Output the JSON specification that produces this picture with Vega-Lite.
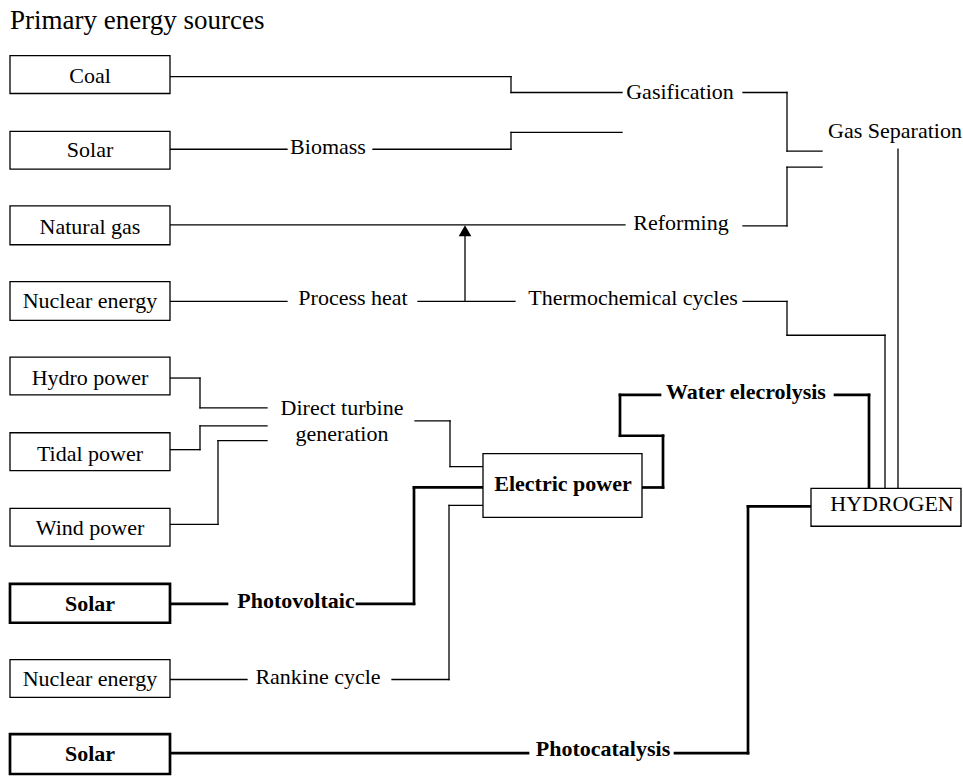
{
  "$schema": "https://vega.github.io/schema/vega-lite/v6.json",
  "width": 963,
  "height": 776,
  "autosize": {"type": "fit", "contains": "padding"},
  "padding": 0,
  "background": "white",
  "config": {"view": {"stroke": null}, "text": {"font": "'Liberation Serif', 'Times New Roman', Times, 'DejaVu Serif', serif"}},
  "datasets": {
    "boxes": [
      {"name": "Coal", "x": 10, "x2": 170, "y": 56, "y2": 94, "style": "thin"},
      {"name": "Solar", "x": 10, "x2": 170, "y": 132, "y2": 170, "style": "thin"},
      {"name": "Natural gas", "x": 10, "x2": 170, "y": 207, "y2": 246, "style": "thin"},
      {"name": "Nuclear energy", "x": 10, "x2": 170, "y": 283, "y2": 322, "style": "thin"},
      {"name": "Hydro power", "x": 10, "x2": 170, "y": 359, "y2": 397, "style": "thin"},
      {"name": "Tidal power", "x": 10, "x2": 170, "y": 435, "y2": 473, "style": "thin"},
      {"name": "Wind power", "x": 10, "x2": 170, "y": 511, "y2": 549, "style": "thin"},
      {"name": "Solar (PV)", "x": 10, "x2": 170, "y": 587, "y2": 626, "style": "thick"},
      {"name": "Nuclear energy (Rankine)", "x": 10, "x2": 170, "y": 663, "y2": 701, "style": "thin"},
      {"name": "Solar (photocatalysis)", "x": 10, "x2": 170, "y": 738, "y2": 778, "style": "thick"},
      {"name": "Electric power", "x": 483, "x2": 642, "y": 456, "y2": 520, "style": "thin"},
      {"name": "HYDROGEN", "x": 811, "x2": 961, "y": 491, "y2": 529, "style": "thin"}
    ],
    "links": [
      {"x": 170, "y": 77, "x2": 511, "y2": 77, "style": "thin"},
      {"x": 511, "y": 77, "x2": 511, "y2": 93, "style": "thin"},
      {"x": 511, "y": 93, "x2": 622, "y2": 93, "style": "thin"},
      {"x": 743, "y": 93, "x2": 787, "y2": 93, "style": "thin"},
      {"x": 787, "y": 93, "x2": 787, "y2": 152, "style": "thin"},
      {"x": 787, "y": 152, "x2": 822, "y2": 152, "style": "thin"},
      {"x": 170, "y": 150, "x2": 287, "y2": 150, "style": "thin"},
      {"x": 373, "y": 150, "x2": 511, "y2": 150, "style": "thin"},
      {"x": 511, "y": 150, "x2": 511, "y2": 133, "style": "thin"},
      {"x": 511, "y": 133, "x2": 622, "y2": 133, "style": "thin"},
      {"x": 170, "y": 226, "x2": 625, "y2": 226, "style": "thin"},
      {"x": 743, "y": 227, "x2": 787, "y2": 227, "style": "thin"},
      {"x": 787, "y": 227, "x2": 787, "y2": 168, "style": "thin"},
      {"x": 787, "y": 168, "x2": 822, "y2": 168, "style": "thin"},
      {"x": 898, "y": 150, "x2": 898, "y2": 491, "style": "thin"},
      {"x": 170, "y": 303, "x2": 287, "y2": 303, "style": "thin"},
      {"x": 418, "y": 303, "x2": 515, "y2": 303, "style": "thin"},
      {"x": 465, "y": 303, "x2": 465, "y2": 236, "style": "thin"},
      {"x": 743, "y": 303, "x2": 787, "y2": 303, "style": "thin"},
      {"x": 787, "y": 303, "x2": 787, "y2": 337, "style": "thin"},
      {"x": 787, "y": 337, "x2": 885, "y2": 337, "style": "thin"},
      {"x": 885, "y": 337, "x2": 885, "y2": 491, "style": "thin"},
      {"x": 170, "y": 380, "x2": 200, "y2": 380, "style": "thin"},
      {"x": 200, "y": 380, "x2": 200, "y2": 410, "style": "thin"},
      {"x": 200, "y": 410, "x2": 267, "y2": 410, "style": "thin"},
      {"x": 170, "y": 452, "x2": 200, "y2": 452, "style": "thin"},
      {"x": 200, "y": 452, "x2": 200, "y2": 428, "style": "thin"},
      {"x": 200, "y": 428, "x2": 267, "y2": 428, "style": "thin"},
      {"x": 170, "y": 527, "x2": 218, "y2": 527, "style": "thin"},
      {"x": 218, "y": 527, "x2": 218, "y2": 443, "style": "thin"},
      {"x": 218, "y": 443, "x2": 267, "y2": 443, "style": "thin"},
      {"x": 415, "y": 423, "x2": 450, "y2": 423, "style": "thin"},
      {"x": 450, "y": 423, "x2": 450, "y2": 469, "style": "thin"},
      {"x": 450, "y": 469, "x2": 483, "y2": 469, "style": "thin"},
      {"x": 170, "y": 683, "x2": 247, "y2": 683, "style": "thin"},
      {"x": 392, "y": 683, "x2": 449, "y2": 683, "style": "thin"},
      {"x": 449, "y": 683, "x2": 449, "y2": 508, "style": "thin"},
      {"x": 449, "y": 508, "x2": 483, "y2": 508, "style": "thin"},
      {"x": 170, "y": 607, "x2": 227, "y2": 607, "style": "thick"},
      {"x": 357, "y": 607, "x2": 414, "y2": 607, "style": "thick"},
      {"x": 414, "y": 607, "x2": 414, "y2": 490, "style": "thick"},
      {"x": 414, "y": 490, "x2": 483, "y2": 490, "style": "thick"},
      {"x": 642, "y": 490, "x2": 663, "y2": 490, "style": "thick"},
      {"x": 663, "y": 490, "x2": 663, "y2": 438, "style": "thick"},
      {"x": 663, "y": 438, "x2": 620, "y2": 438, "style": "thick"},
      {"x": 620, "y": 438, "x2": 620, "y2": 397, "style": "thick"},
      {"x": 620, "y": 397, "x2": 660, "y2": 397, "style": "thick"},
      {"x": 835, "y": 397, "x2": 869, "y2": 397, "style": "thick"},
      {"x": 869, "y": 397, "x2": 869, "y2": 491, "style": "thick"},
      {"x": 170, "y": 757, "x2": 528, "y2": 757, "style": "thick"},
      {"x": 675, "y": 757, "x2": 748, "y2": 757, "style": "thick"},
      {"x": 748, "y": 757, "x2": 748, "y2": 509, "style": "thick"},
      {"x": 748, "y": 509, "x2": 811, "y2": 509, "style": "thick"}
    ],
    "labels": [
      {"label": "Coal", "x": 90, "y": 83, "weight": "normal"},
      {"label": "Solar", "x": 90, "y": 158, "weight": "normal"},
      {"label": "Natural gas", "x": 90, "y": 235, "weight": "normal"},
      {"label": "Nuclear energy", "x": 90, "y": 310, "weight": "normal"},
      {"label": "Hydro power", "x": 90, "y": 387, "weight": "normal"},
      {"label": "Tidal power", "x": 90, "y": 463, "weight": "normal"},
      {"label": "Wind power", "x": 90, "y": 538, "weight": "normal"},
      {"label": "Solar", "x": 90, "y": 614, "weight": "bold"},
      {"label": "Nuclear energy", "x": 90, "y": 690, "weight": "normal"},
      {"label": "Solar", "x": 90, "y": 765, "weight": "bold"},
      {"label": "Biomass", "x": 328, "y": 155, "weight": "normal"},
      {"label": "Gasification", "x": 680, "y": 100, "weight": "normal"},
      {"label": "Gas Separation", "x": 895, "y": 139, "weight": "normal"},
      {"label": "Reforming", "x": 681, "y": 231, "weight": "normal"},
      {"label": "Process heat", "x": 353, "y": 307, "weight": "normal"},
      {"label": "Thermochemical cycles", "x": 633, "y": 307, "weight": "normal"},
      {"label": "Direct turbine", "x": 342, "y": 417, "weight": "normal"},
      {"label": "generation", "x": 342, "y": 443, "weight": "normal"},
      {"label": "Water elecrolysis", "x": 746, "y": 401, "weight": "bold"},
      {"label": "Electric power", "x": 563, "y": 494, "weight": "bold"},
      {"label": "HYDROGEN", "x": 892, "y": 514, "weight": "normal"},
      {"label": "Photovoltaic", "x": 296, "y": 611, "weight": "bold"},
      {"label": "Rankine cycle", "x": 318, "y": 688, "weight": "normal"},
      {"label": "Photocatalysis", "x": 603, "y": 760, "weight": "bold"}
    ],
    "title": [
      {"label": "Primary energy sources", "x": 10, "y": 29}
    ],
    "arrows": [
      {"x": 465, "y": 232}
    ]
  },
  "layer": [
    {
      "data": {"name": "links"},
      "mark": {"type": "rule", "color": "black", "strokeCap": "square"},
      "encoding": {
        "x": {"field": "x", "type": "quantitative", "scale": {"domain": [0, 963], "nice": false, "zero": false}, "axis": null},
        "y": {"field": "y", "type": "quantitative", "scale": {"domain": [0, 776], "nice": false, "zero": false, "reverse": true}, "axis": null},
        "x2": {"field": "x2"},
        "y2": {"field": "y2"},
        "strokeWidth": {"field": "style", "type": "nominal", "scale": {"domain": ["thin", "thick"], "range": [1.3, 2.7]}, "legend": null}
      }
    },
    {
      "data": {"name": "boxes"},
      "mark": {"type": "rect", "fill": "white", "stroke": "black"},
      "encoding": {
        "x": {"field": "x", "type": "quantitative", "scale": {"domain": [0, 963], "nice": false, "zero": false}, "axis": null},
        "y": {"field": "y", "type": "quantitative", "scale": {"domain": [0, 776], "nice": false, "zero": false, "reverse": true}, "axis": null},
        "x2": {"field": "x2"},
        "y2": {"field": "y2"},
        "strokeWidth": {"field": "style", "type": "nominal", "scale": {"domain": ["thin", "thick"], "range": [1.3, 2.7]}, "legend": null}
      }
    },
    {
      "data": {"name": "arrows"},
      "mark": {"type": "point", "shape": "triangle-up", "filled": true, "color": "black", "size": 160, "opacity": 1},
      "encoding": {
        "x": {"field": "x", "type": "quantitative", "scale": {"domain": [0, 963], "nice": false, "zero": false}, "axis": null},
        "y": {"field": "y", "type": "quantitative", "scale": {"domain": [0, 776], "nice": false, "zero": false, "reverse": true}, "axis": null}
      }
    },
    {
      "data": {"name": "labels"},
      "transform": [{"filter": "datum.weight === 'normal'"}],
      "mark": {"type": "text", "fontSize": 22, "align": "center", "baseline": "alphabetic", "color": "black"},
      "encoding": {
        "x": {"field": "x", "type": "quantitative", "scale": {"domain": [0, 963], "nice": false, "zero": false}, "axis": null},
        "y": {"field": "y", "type": "quantitative", "scale": {"domain": [0, 776], "nice": false, "zero": false, "reverse": true}, "axis": null},
        "text": {"field": "label"}
      }
    },
    {
      "data": {"name": "labels"},
      "transform": [{"filter": "datum.weight === 'bold'"}],
      "mark": {"type": "text", "fontSize": 22, "fontWeight": "bold", "align": "center", "baseline": "alphabetic", "color": "black"},
      "encoding": {
        "x": {"field": "x", "type": "quantitative", "scale": {"domain": [0, 963], "nice": false, "zero": false}, "axis": null},
        "y": {"field": "y", "type": "quantitative", "scale": {"domain": [0, 776], "nice": false, "zero": false, "reverse": true}, "axis": null},
        "text": {"field": "label"}
      }
    },
    {
      "data": {"name": "title"},
      "mark": {"type": "text", "fontSize": 27, "align": "left", "baseline": "alphabetic", "color": "black"},
      "encoding": {
        "x": {"field": "x", "type": "quantitative", "scale": {"domain": [0, 963], "nice": false, "zero": false}, "axis": null},
        "y": {"field": "y", "type": "quantitative", "scale": {"domain": [0, 776], "nice": false, "zero": false, "reverse": true}, "axis": null},
        "text": {"field": "label"}
      }
    }
  ]
}
